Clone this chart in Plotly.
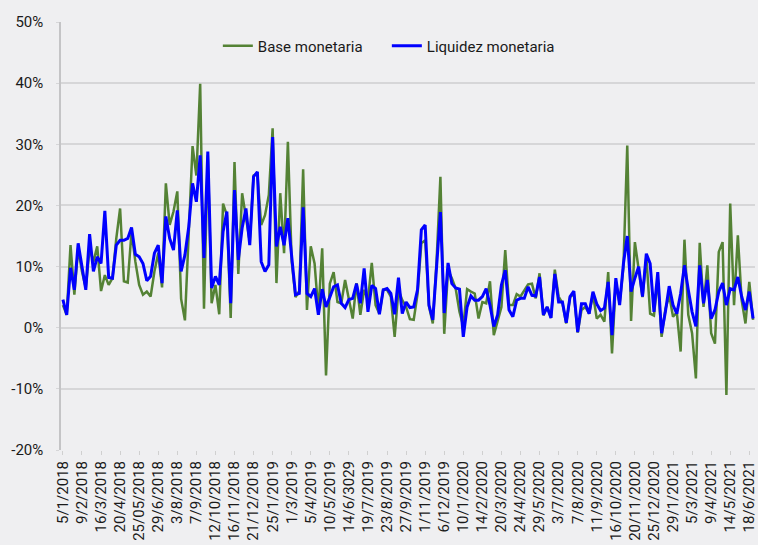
import pandas as pd
import plotly.graph_objects as go

# weekly observations, Friday 5/1/2018 onwards
weeks = [f"{d.day}/{d.month}/{d.year}" for d in pd.date_range("2018-01-05", periods=182, freq="7D")]

tick_labels = ["5/1/2018", "9/2/2018", "16/3/2018", "20/4/2018", "25/05/2018", "29/6/2018",
               "3/8/2018", "7/9/2018", "12/10/2018", "16/11/2018", "21/12/2018", "25/1/2019",
               "1/3/2019", "5/4/2019", "10/5/2019", "14/6/3029", "19/7/2019", "23/8/2019",
               "27/9/2019", "1/11/2019", "6/12/2019", "10/1/2020", "14/2/2020", "20/3/2020",
               "24/4/2020", "29/5/2020", "3/7/2020", "7/8/2020", "11/9/2020", "16/10/2020",
               "20/11/2020", "25/12/2020", "29/1/2021", "5/3/2021", "9/4/2021", "14/5/2021",
               "18/6/2021"]

y_ticks = [-20, -10, 0, 10, 20, 30, 40, 50]
y_tick_labels = ["-20%", "-10%", "0%", "10%", "20%", "30%", "40%", "50%"]

base = [3.7, 2.1, 13.5, 5.4, 13.0, 9.2, 6.5, 13.0, 10.8, 13.3,
        6.0, 8.6, 7.0, 8.1, 14.6, 19.5, 7.6, 7.4, 15.7, 10.8,
        7.0, 5.4, 5.9, 5.1, 9.2, 12.2, 6.6, 23.6, 16.8, 19.0,
        22.3, 4.7, 1.2, 15.2, 29.7, 24.9, 39.9, 3.1, 28.2, 4.0,
        7.0, 2.2, 20.3, 18.4, 1.6, 27.1, 8.8, 22.0, 18.4, 14.1,
        24.9, 25.2, 16.8, 18.4, 21.7, 32.6, 7.3, 22.0, 12.2, 30.4,
        10.8, 5.0, 6.0, 25.9, 2.9, 13.3, 10.5, 2.6, 13.0, -7.8,
        7.2, 9.1, 4.2, 4.0, 7.8, 4.8, 1.5, 7.3, 2.1, 6.2,
        4.5, 10.6, 3.7, 2.3, 6.2, 6.2, 5.1, -1.5, 6.2, 4.5,
        3.4, 1.4, 1.3, 5.5, 13.8, 14.3, 3.5, 0.7, 11.0, 24.7,
        -1.0, 9.4, 8.1, 6.4, 2.6, 0.2, 6.3, 5.9, 5.6, 1.5,
        4.2, 4.0, 7.6, -1.2, 1.0, 3.4, 12.7, 3.7, 3.7, 5.5,
        5.1, 6.2, 7.1, 7.2, 4.8, 8.9, 2.0, 3.4, 1.6, 9.5,
        5.1, 4.0, 0.7, 5.0, 5.5, -0.8, 2.9, 3.4, 2.3, 5.5,
        1.5, 2.1, 1.0, 9.1, -4.2, 7.5, 4.0, 10.0, 29.8, 1.1,
        14.0, 9.5, 5.0, 11.6, 2.3, 2.0, 8.0, -1.5, 3.0, 5.3,
        1.8, 2.5, -3.9, 14.4, 2.1, -0.9, -8.3, 13.9, 3.4, 10.2,
        -0.9, -2.6, 12.4, 14.0, -11.0, 20.3, 3.7, 15.1, 4.5, 0.7,
        7.5, 1.3]

liquidez = [4.6, 2.1, 9.8, 6.2, 13.8, 10.0, 6.2, 15.3, 9.2, 11.6,
            10.5, 19.1, 8.2, 8.1, 13.5, 14.3, 14.3, 14.6, 16.4, 12.0,
            11.6, 10.5, 7.7, 8.4, 12.2, 13.5, 7.3, 18.2, 14.6, 12.7,
            19.2, 9.2, 11.9, 16.5, 23.6, 20.6, 28.2, 11.4, 28.8, 6.5,
            8.4, 7.0, 15.7, 19.0, 4.0, 22.5, 11.1, 16.3, 19.5, 13.5,
            24.7, 25.5, 10.8, 9.2, 10.3, 31.2, 13.3, 16.5, 13.5, 17.9,
            11.9, 5.4, 5.6, 19.7, 5.6, 5.1, 6.4, 2.1, 6.3, 3.4,
            5.0, 6.7, 7.0, 4.0, 3.3, 4.6, 4.8, 7.2, 4.0, 9.7,
            2.6, 6.9, 6.4, 2.2, 6.2, 6.4, 5.6, 2.2, 8.2, 2.3,
            4.2, 3.3, 3.4, 6.2, 16.0, 16.8, 3.7, 1.3, 10.0, 18.9,
            2.4, 10.6, 7.2, 6.5, 6.3, -1.5, 3.4, 5.2, 4.5, 4.5,
            5.1, 6.4, 3.7, 0.2, 2.1, 7.0, 9.4, 2.9, 1.8, 4.5,
            4.8, 4.8, 6.7, 5.3, 5.2, 8.3, 2.1, 3.4, 1.6, 8.8,
            4.2, 4.2, 0.8, 5.1, 6.0, -0.7, 3.9, 3.9, 2.3, 5.9,
            3.9, 2.8, 3.2, 7.5, -1.2, 8.1, 3.7, 10.5, 15.0, 5.9,
            8.1, 10.0, 5.1, 12.1, 10.5, 2.6, 9.1, -0.9, 2.6, 6.8,
            3.7, 2.3, 5.6, 10.2, 6.2, 2.6, 0.2, 10.2, 4.0, 7.8,
            1.5, 2.9, 5.9, 7.3, 3.7, 6.4, 6.2, 8.3, 5.1, 2.9,
            5.9, 1.5]

fig = go.Figure()
fig.add_trace(go.Scatter(x=weeks, y=base, mode="lines", name="Base monetaria",
                         line=dict(color="#548235", width=2.5)))
fig.add_trace(go.Scatter(x=weeks, y=liquidez, mode="lines", name="Liquidez monetaria",
                         line=dict(color="#0000ff", width=3)))

bg = "#efeff1"
fig.update_layout(
    width=758, height=545,
    margin=dict(l=61, r=0, t=22, b=95),
    paper_bgcolor=bg, plot_bgcolor=bg,
    font=dict(family="Roboto", size=15, color="#1a1a1a"),
    legend=dict(orientation="h", x=0.226, xanchor="left", y=0.944, yanchor="middle",
                bgcolor="rgba(0,0,0,0)", font=dict(size=15),
                entrywidth=124, entrywidthmode="pixels", traceorder="normal"),
    showlegend=True,
)
fig.update_xaxes(
    type="category", range=[-0.5, 181.5],
    tickmode="array", tickvals=weeks[::5], ticktext=tick_labels,
    tickangle=-90, tickfont=dict(size=15),
    showgrid=False, showline=False, zeroline=False,
    ticks="outside", ticklen=4, tickcolor="#d0d0d0",
)
fig.update_yaxes(
    range=[-20, 50], tickmode="array", tickvals=y_ticks, ticktext=y_tick_labels,
    showgrid=True, gridcolor="#d6d6d8", gridwidth=1.5,
    zeroline=False, showline=True, linecolor="#c4c4c6", linewidth=1.5,
    ticks="outside", ticklen=3, tickcolor="#d6d6d8",
    tickfont=dict(size=15), ticklabelstandoff=10,
)

# drop the browser's default body margin so the figure sits at the page corner
fig.write_html("out.html", config={"displayModeBar": False},
               post_script="document.body.style.margin='0';")
